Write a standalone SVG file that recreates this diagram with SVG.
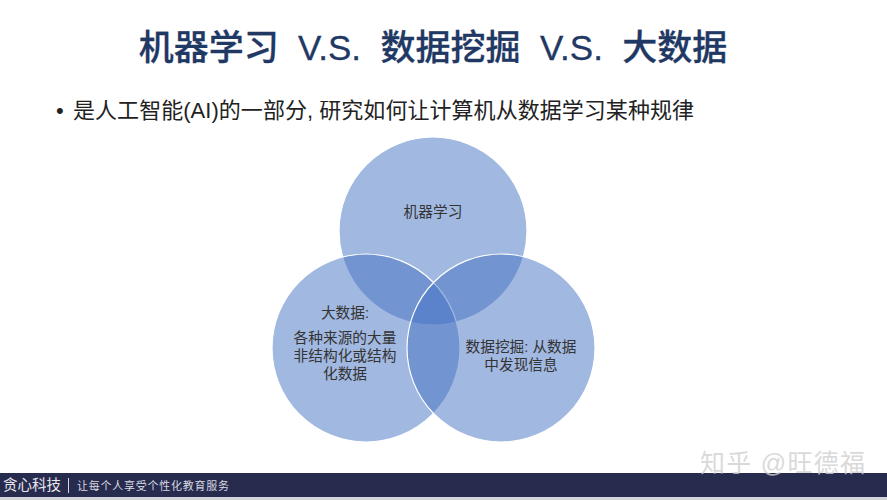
<svg xmlns="http://www.w3.org/2000/svg" width="887" height="500" viewBox="0 0 887 500">
<style>
.c{fill:#4472c4;fill-opacity:.5;stroke:#fff;stroke-width:1.2}
.t{font-family:"Liberation Sans","Noto Sans CJK SC",sans-serif;font-size:14.7px;fill:#333;text-anchor:middle}
.h{font-family:"Liberation Sans","Noto Sans CJK SC",sans-serif}
</style>
<rect width="887" height="500" fill="#fff"/>
<text class="h" x="433" y="60" font-size="35" font-weight="500" fill="#1f3864" stroke="#1f3864" stroke-width=".3" text-anchor="middle" xml:space="preserve">机器学习  V.S.  数据挖掘  V.S.  大数据</text>
<text class="h" x="56" y="118" font-size="22" fill="#222">•</text>
<text class="h" x="73" y="118" font-size="22" fill="#222" textLength="621" lengthAdjust="spacing">是人工智能(AI)的一部分, 研究如何让计算机从数据学习某种规律</text>
<g id="ml"><circle class="c" cx="433" cy="231" r="94"/><text class="t" x="433" y="217">机器学习</text></g>
<g id="bd"><circle class="c" cx="366" cy="348" r="94"/><text class="t" x="345" y="318">大数据:</text><text class="t" x="345" y="343">各种来源的大量</text><text class="t" x="345" y="361">非结构化或结构</text><text class="t" x="345" y="379">化数据</text></g>
<g id="dm"><circle class="c" cx="501" cy="348" r="94"/><text class="t" x="521" y="352">数据挖掘: 从数据</text><text class="t" x="521" y="370">中发现信息</text></g>
<g id="connectors"></g>
<rect y="473" width="887" height="24" fill="#272c4f"/>
<rect y="497" width="887" height="3" fill="#d4d4dc"/>
<text class="h" x="3" y="490" font-size="14.5" fill="#e8e8ec">贪心科技</text>
<rect x="68" y="478" width="1" height="15" fill="#d8d8e0"/>
<text class="h" x="77" y="490" font-size="11" fill="#d8d8e0" textLength="152">让每个人享受个性化教育服务</text>
<text class="h" x="700" y="472" font-size="25" fill="#cfcfcf" fill-opacity=".8" textLength="165">知乎 @旺德福</text>
</svg>
